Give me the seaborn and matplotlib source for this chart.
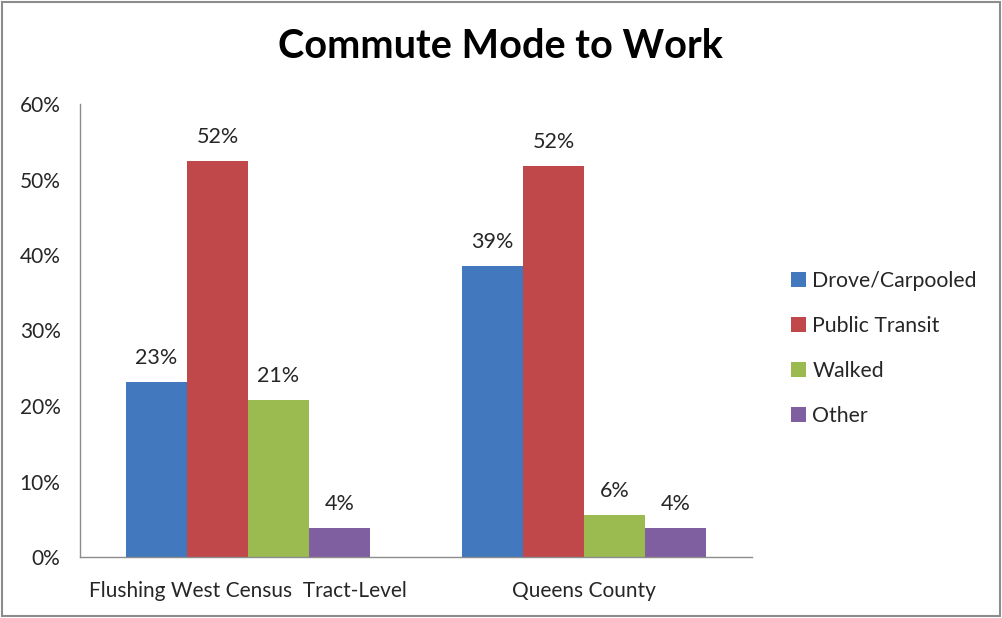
import matplotlib
matplotlib.use("Agg")
import matplotlib.pyplot as plt
import seaborn as sns
import pandas as pd
from matplotlib.patches import Rectangle, Patch

categories = ["Flushing West Census  Tract-Level", "Queens County"]
modes = ["Drove/Carpooled", "Public Transit", "Walked", "Other"]
drove = [0.232, 0.386]
transit = [0.524, 0.518]
walked = [0.208, 0.056]
other = [0.038, 0.038]
colors = ["#4178BE", "#C0474A", "#9BBB50", "#7F5FA0"]
yticks = [0, 0.1, 0.2, 0.3, 0.4, 0.5, 0.6]

rows = []
for mode, vals in zip(modes, [drove, transit, walked, other]):
    for cat, v in zip(categories, vals):
        rows.append({"Category": cat, "Mode": mode, "Value": v})
df = pd.DataFrame(rows)

sns.set_style("white")
plt.rcParams["font.family"] = ["Lato", "DejaVu Sans"]

W, H = 1003, 618
fig = plt.figure(figsize=(W / 100, H / 100), dpi=100)
ax = fig.add_axes([80 / W, (H - 557) / H, (752 - 80) / W, (557 - 104) / H])

sns.barplot(data=df, x="Category", y="Value", hue="Mode", order=categories,
            hue_order=modes, palette=colors, width=0.726, saturation=1,
            ax=ax, legend=False, linewidth=0, errorbar=None)

ax.set_ylim(0, 0.6)
ax.set_yticks(yticks)
ax.set_yticklabels([f"{int(round(t*100))}%" for t in yticks], fontsize=15, color="#262626")
ax.tick_params(axis="y", length=0, pad=14)
ax.tick_params(axis="x", length=0, labelsize=15, labelcolor="#262626", pad=17)
ax.set_xlabel("")
ax.set_ylabel("")
ax.set_xlim(-0.5, 1.5)
for s in ["top", "right"]:
    ax.spines[s].set_visible(False)
for s in ["left", "bottom"]:
    ax.spines[s].set_color("#8C8C8C")
    ax.spines[s].set_linewidth(1)
ax.grid(False)

for cont in ax.containers:
    ax.bar_label(cont, labels=[f"{round(b.get_height()*100):.0f}%" for b in cont],
                 padding=10, fontsize=15.5, color="#262626")

handles = [Patch(facecolor=c, edgecolor="none") for c in colors]
fig.legend(handles, modes, loc="upper left", bbox_to_anchor=(772 / W, 1 - 252 / H),
           frameon=False, fontsize=15.3, handlelength=0.7, handleheight=0.7,
           handletextpad=0.3, labelspacing=1.17, labelcolor="#262626")

fig.text(500 / W, 1 - 47 / H, "Commute Mode to Work", ha="center", va="center",
         fontsize=28.5, fontweight="bold", color="black")

fig.patches.append(Rectangle((2 / W, 2 / H), (W - 5) / W, (H - 4) / H,
                             transform=fig.transFigure, fill=False,
                             edgecolor="#8C8C8C", linewidth=1.5))

fig.savefig("out.png", dpi=100)
